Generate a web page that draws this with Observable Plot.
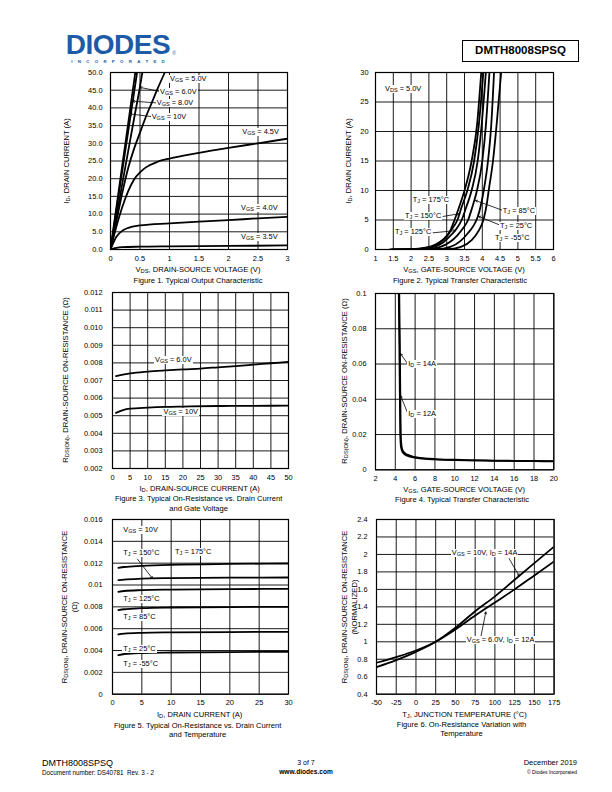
<!DOCTYPE html>
<html><head><meta charset="utf-8">
<script src="https://cdn.jsdelivr.net/npm/d3@7"></script>
<script src="https://cdn.jsdelivr.net/npm/@observablehq/plot@0.6"></script>
<style>
body{margin:0;background:#fff;}
#page{position:relative;width:612px;height:792px;overflow:hidden;font-family:"Liberation Sans",Arial,sans-serif;color:#000;background:#fff;}
.t{position:absolute;white-space:nowrap;line-height:1;}
.ann{position:absolute;white-space:nowrap;font-size:7.4px;line-height:8px;background:#fff;padding:0 1px;transform:translate(-1px,-50%);}
sub{font-size:75%;vertical-align:-0.22em;line-height:0;}
svg{position:absolute;overflow:visible;}
</style></head><body><div id="page"></div>
<script>
// ================= DATA =================
// Figure 1 – Typical Output Characteristic
const fig1XTicks = [0,0.5,1,1.5,2,2.5,3];
const fig1XLabels = ["0","0.5","1","1.5","2","2.5","3"];
const fig1YTicks = [0,5,10,15,20,25,30,35,40,45,50];
const fig1YLabels = ["0.0","5.0","10.0","15.0","20.0","25.0","30.0","35.0","40.0","45.0","50.0"];
const fig1Vgs10 = [[0,0],[0.1,11.9],[0.2,23.8],[0.3,35.6],[0.42,50]];
const fig1Vgs8  = [[0,0],[0.1,11.2],[0.2,22.3],[0.3,33.4],[0.4,44.4],[0.45,50]];
const fig1Vgs6  = [[0,0],[0.1,9.3],[0.2,18.6],[0.3,27.8],[0.4,37],[0.5,46],[0.54,50]];
const fig1Vgs5  = [[0,0],[0.1,8],[0.2,16],[0.3,23],[0.4,28.5],[0.5,33],[0.6,37.5],[0.7,41.5],[0.8,45.5],[0.92,50]];
const fig1Vgs45 = [[0,0],[0.1,6.5],[0.2,12],[0.3,16.5],[0.4,19.8],[0.5,21.8],[0.6,23.2],[0.8,24.8],[1,25.7],[1.5,27.3],[2,28.7],[2.5,30],[3,31.3]];
const fig1Vgs4  = [[0,0],[0.1,3.6],[0.2,5.3],[0.3,6.1],[0.5,6.8],[1,7.4],[1.5,7.9],[2,8.3],[2.5,8.8],[3,9.2]];
const fig1Vgs35 = [[0,0],[0.1,0.45],[0.2,0.65],[0.5,0.8],[1,0.9],[2,1.0],[3,1.15]];

// Figure 2 – Typical Transfer Characteristic
const fig2XTicks = [1,1.5,2,2.5,3,3.5,4,4.5,5,5.5,6];
const fig2XLabels = ["1","1.5","2","2.5","3","3.5","4","4.5","5","5.5","6"];
const fig2YTicks = [0,5,10,15,20,25,30];
const fig2YLabels = ["0","5","10","15","20","25","30"];
const fig2T175 = [[1.4,0],[2.0,0.05],[2.4,0.3],[2.7,0.9],[2.9,1.7],[3.1,3.2],[3.22,5],[3.35,7.2],[3.5,10],[3.7,15],[3.85,21],[3.97,30]];
const fig2T150 = [[1.45,0],[2.1,0.05],[2.5,0.35],[2.8,1.1],[3.0,2.2],[3.15,3.5],[3.3,5],[3.42,7.2],[3.58,10],[3.77,15],[3.9,21],[4.03,30]];
const fig2T125 = [[1.5,0],[2.2,0.05],[2.6,0.35],[2.9,1.2],[3.1,2.3],[3.25,3.3],[3.42,5],[3.55,7.2],[3.7,10],[3.87,15],[3.98,21],[4.1,30]];
const fig2T85  = [[1.6,0],[2.4,0.05],[2.8,0.4],[3.1,1.3],[3.3,2.4],[3.45,3.5],[3.6,5],[3.72,7.2],[3.85,10],[4.0,15],[4.1,21],[4.2,30]];
const fig2T25  = [[1.8,0],[2.7,0.05],[3.1,0.45],[3.4,1.5],[3.6,2.8],[3.75,4],[3.87,5.5],[3.96,7.5],[4.04,10],[4.16,15],[4.25,21],[4.33,30]];
const fig2Tm55 = [[2.2,0],[3.0,0.05],[3.4,0.45],[3.7,1.6],[3.9,3.2],[4.03,5],[4.12,7.5],[4.18,10],[4.3,15],[4.4,21],[4.53,30]];

// Figure 3 – On-Resistance vs Drain Current and Gate Voltage
const fig3XTicks = [0,5,10,15,20,25,30,35,40,45,50];
const fig3XLabels = ["0","5","10","15","20","25","30","35","40","45","50"];
const fig3YTicks = [0.002,0.003,0.004,0.005,0.006,0.007,0.008,0.009,0.010,0.011,0.012];
const fig3YLabels = ["0.002","0.003","0.004","0.005","0.006","0.007","0.008","0.009","0.010","0.011","0.012"];
const fig3Vgs6  = [[1,0.00725],[5,0.0074],[10,0.0075],[15,0.00757],[20,0.00763],[25,0.00768],[30,0.00775],[35,0.00782],[40,0.0079],[45,0.00798],[50,0.00806]];
const fig3Vgs10 = [[1,0.00516],[3,0.00532],[5,0.0054],[10,0.00546],[15,0.0055],[20,0.00552],[30,0.00555],[40,0.00556],[50,0.00557]];

// Figure 4 – On-Resistance vs Gate-Source Voltage
const fig4XTicks = [2,4,6,8,10,12,14,16,18,20];
const fig4XLabels = ["2","4","6","8","10","12","14","16","18","20"];
const fig4YTicks = [0,0.02,0.04,0.06,0.08,0.1];
const fig4YLabels = ["0","0.02","0.04","0.06","0.08","0.1"];
const fig4Id12 = [[4.35,0.1],[4.41,0.07],[4.46,0.04],[4.5,0.02],[4.55,0.014],[4.63,0.0115],[4.8,0.0095],[5.2,0.008],[6,0.0069],[7,0.0062],[8,0.0059],[10,0.0055],[12,0.0053],[14,0.0051],[16,0.005],[18,0.0049],[20,0.0048]];
const fig4Id14 = [[4.4,0.1],[4.46,0.07],[4.51,0.04],[4.55,0.02],[4.6,0.015],[4.68,0.012],[4.87,0.0099],[5.2,0.0086],[6,0.0072],[7,0.0065],[8,0.0061],[10,0.0057],[12,0.0054],[14,0.0052],[16,0.0051],[18,0.005],[20,0.0049]];

// Figure 5 – On-Resistance vs Drain Current and Temperature
const fig5XTicks = [0,5,10,15,20,25,30];
const fig5XLabels = ["0","5","10","15","20","25","30"];
const fig5YTicks = [0,0.002,0.004,0.006,0.008,0.01,0.012,0.014,0.016];
const fig5YLabels = ["0","0.002","0.004","0.006","0.008","0.01","0.012","0.014","0.016"];
const fig5T175 = [[1,0.01157],[2,0.01165],[5,0.01175],[10,0.01185],[20,0.01193],[30,0.01197]];
const fig5T150 = [[1,0.01044],[2,0.0105],[5,0.01058],[10,0.01063],[20,0.01067],[30,0.01069]];
const fig5T125 = [[1,0.00937],[2,0.00945],[5,0.00953],[10,0.00958],[20,0.00962],[30,0.00965]];
const fig5T85  = [[1,0.0077],[2,0.00778],[5,0.00788],[10,0.00794],[20,0.00798],[30,0.008]];
const fig5T25  = [[1,0.00547],[2,0.00555],[5,0.00562],[10,0.00566],[20,0.00569],[30,0.00571]];
const fig5Tm55 = [[1,0.00357],[2,0.00368],[5,0.00377],[10,0.00382],[20,0.00386],[30,0.00388]];

// Figure 6 – On-Resistance Variation with Temperature
const fig6XTicks = [-50,-25,0,25,50,75,100,125,150,175];
const fig6XLabels = ["-50","-25","0","25","50","75","100","125","150","175"];
const fig6YTicks = [0.4,0.6,0.8,1,1.2,1.4,1.6,1.8,2,2.2,2.4];
const fig6YLabels = ["0.4","0.6","0.8","1","1.2","1.4","1.6","1.8","2","2.2","2.4"];
const fig6Vgs10Id14 = [[-50,0.71],[-25,0.79],[0,0.885],[25,1.0],[50,1.16],[75,1.35],[100,1.52],[125,1.71],[150,1.9],[175,2.09]];
const fig6Vgs6Id12  = [[-50,0.76],[-25,0.825],[0,0.9],[25,1.0],[50,1.14],[75,1.3],[100,1.45],[125,1.6],[150,1.76],[175,1.92]];

// ============ ANNOTATIONS (data coordinates) ============
const VGS = "V<sub>GS</sub>", TJ = "T<sub>J</sub>", ID = "I<sub>D</sub>";
const fig1Notes = [
  {x:1.025,y:48.0,html:VGS+" = 5.0V"},
  {x:0.856,y:44.4,html:VGS+" = 6.0V"},
  {x:0.80,y:41.2,html:VGS+" = 8.0V"},
  {x:0.715,y:37.3,html:VGS+" = 10V"},
  {x:2.25,y:33.1,html:VGS+" = 4.5V"},
  {x:2.23,y:11.5,html:VGS+" = 4.0V"},
  {x:2.23,y:3.5,html:VGS+" = 3.5V"}];
const fig1Arrows = [
  {x1:0.85,y1:44.6,x2:0.5,y2:45.8},
  {x1:0.79,y1:41.4,x2:0.378,y2:41.9},
  {x1:0.71,y1:37.5,x2:0.33,y2:38.3}];
const fig2Notes = [
  {x:1.28,y:27.2,html:"V<sub>DS</sub> = 5.0V"},
  {x:2.06,y:8.3,html:TJ+" = 175°C"},
  {x:1.84,y:5.6,html:TJ+" = 150°C"},
  {x:1.56,y:2.83,html:TJ+" = 125°C"},
  {x:4.59,y:6.44,html:TJ+" = 85°C"},
  {x:4.51,y:3.95,html:TJ+" = 25°C"},
  {x:4.37,y:1.81,html:TJ+" = -55°C"}];
const fig2Arrows = [
  {x1:2.9,y1:5.6,x2:3.34,y2:6.05},
  {x1:2.62,y1:2.83,x2:3.25,y2:3.2},
  {x1:4.59,y1:6.6,x2:3.81,y2:8.3},
  {x1:4.51,y1:4.1,x2:3.9,y2:5.6}];
const fig3Notes = [
  {x:12.3,y:0.00815,html:VGS+" = 6.0V"},
  {x:14.7,y:0.00522,html:VGS+" = 10V"}];
const fig4Notes = [
  {x:5.36,y:0.0597,html:ID+" = 14A"},
  {x:5.36,y:0.0314,html:ID+" = 12A"}];
const fig4Arrows = [
  {x1:5.3,y1:0.0597,x2:4.53,y2:0.0658},
  {x1:5.3,y1:0.0314,x2:4.53,y2:0.0421}];
const fig5Notes = [
  {x:1.98,y:0.01502,html:VGS+" = 10V"},
  {x:1.98,y:0.01289,html:TJ+" = 150°C"},
  {x:10.8,y:0.01303,html:TJ+" = 175°C"},
  {x:1.98,y:0.00867,html:TJ+" = 125°C"},
  {x:1.98,y:0.00708,html:TJ+" = 85°C"},
  {x:1.98,y:0.0041,html:TJ+" = 25°C"},
  {x:1.98,y:0.00275,html:TJ+" = -55°C"}];
const fig5Arrows = [{x1:4.26,y1:0.01237,x2:6.81,y2:0.0106}];
const fig6Notes = [
  {x:46.3,y:2.01,html:VGS+" = 10V, "+ID+" = 14A"},
  {x:65.3,y:1.018,html:VGS+" = 6.0V, "+ID+" = 12A"}];
const fig6Arrows = [
  {x1:118,y1:1.953,x2:130.7,y2:1.754},
  {x1:82.2,y1:1.056,x2:88.5,y2:1.342}];

// ================= RENDER =================
const page = document.getElementById("page");
const FONT = "Liberation Sans, Arial, sans-serif";
const TITLE_SIZE = 7.6;

function text(html, cx, cy, size, extra) {
  const d = document.createElement("div");
  d.className = "t";
  d.innerHTML = html;
  d.style.fontSize = size + "px";
  d.style.left = cx + "px";
  d.style.top = cy + "px";
  d.style.transform = "translate(-50%,-50%)" + (extra && extra.rotate ? " rotate(-90deg)" : "");
  if (extra && extra.style) Object.assign(d.style, extra.style);
  page.appendChild(d);
  return d;
}

function toRows(list) {
  return list.flatMap(s => s.pts.map(([x, y]) => ({series: s.name, x, y})));
}

function drawChart(c) {
  const mL = 40, mR = 10, mT = 8, mB = 16;
  const fw = c.frame.r - c.frame.l, fh = c.frame.b - c.frame.t;
  const xMap = new Map(c.xTicks.map((t, i) => [t, c.xLabels[i]]));
  const yMap = new Map(c.yTicks.map((t, i) => [t, c.yLabels[i]]));
  const rows = toRows(c.series);
  const p = Plot.plot({
    width: fw + mL + mR, height: fh + mT + mB,
    marginLeft: mL, marginRight: mR, marginTop: mT, marginBottom: mB,
    x: {type: "linear", domain: c.xDomain, ticks: c.xTicks, tickFormat: d => xMap.get(d), tickSize: 0, tickPadding: 6, label: null},
    y: {type: "linear", domain: c.yDomain, ticks: c.yTicks, tickFormat: d => yMap.get(d), tickSize: 0, tickPadding: c.yPad, label: null},
    style: {fontFamily: FONT, fontSize: "7.4px", color: "#000", background: "transparent", overflow: "visible"},
    marks: [
      Plot.ruleX(c.xTicks, {stroke: "#000", strokeWidth: 0.9}),
      Plot.ruleY(c.yTicks, {stroke: "#000", strokeWidth: 0.9}),
      Plot.line(rows, {x: "x", y: "y", z: "series", stroke: "#000", strokeWidth: 1.8, curve: "monotone-x", clip: true}),
      Plot.arrow(c.arrows || [], {x1: "x1", y1: "y1", x2: "x2", y2: "y2", stroke: "#000", strokeWidth: 0.8, headLength: 4}),
      Plot.frame({stroke: "#000", strokeWidth: 1.2})
    ]
  });
  const left = c.frame.l - mL, top = c.frame.t - mT;
  p.style.left = left + "px";
  p.style.top = top + "px";
  page.appendChild(p);
  const sx = p.scale("x"), sy = p.scale("y");
  for (const n of c.notes || []) {
    const d = document.createElement("div");
    d.className = "ann";
    d.innerHTML = n.html;
    d.style.left = (left + sx.apply(n.x)) + "px";
    d.style.top = (top + sy.apply(n.y)) + "px";
    page.appendChild(d);
  }
  // axis titles and caption
  text(c.xTitle, (c.frame.l + c.frame.r) / 2, c.frame.b + (c.xtDy || 21), TITLE_SIZE);
  c.yTitle.forEach((t, i) => text(t, c.yTitleX[i], (c.frame.t + c.frame.b) / 2 + (c.yTitleDy || 0), TITLE_SIZE, {rotate: true}));
  c.caption.forEach((t, i) => text(t, (c.frame.l + c.frame.r) / 2 + (c.capDx || 0), c.frame.b + (c.capDy || 32) + i * 9.8, TITLE_SIZE));
}

const RDS = "R<sub>DS(ON)</sub>, DRAIN-SOURCE ON-RESISTANCE";

drawChart({
  frame: {l: 109.5, r: 286.5, t: 72, b: 249},
  xDomain: [0, 3], yDomain: [0, 50], yPad: 8,
  xTicks: fig1XTicks, xLabels: fig1XLabels, yTicks: fig1YTicks, yLabels: fig1YLabels,
  series: [
    {name: "10V", pts: fig1Vgs10}, {name: "8V", pts: fig1Vgs8}, {name: "6V", pts: fig1Vgs6},
    {name: "5V", pts: fig1Vgs5}, {name: "4.5V", pts: fig1Vgs45}, {name: "4V", pts: fig1Vgs4}, {name: "3.5V", pts: fig1Vgs35}],
  notes: fig1Notes, arrows: fig1Arrows,
  xTitle: "V<sub>DS</sub>, DRAIN-SOURCE VOLTAGE (V)",
  yTitle: [ID + ", DRAIN CURRENT (A)"], yTitleX: [67],
  caption: ["Figure 1. Typical Output Characteristic"]
});

drawChart({
  frame: {l: 375, r: 553, t: 72, b: 249},
  xDomain: [1, 6], yDomain: [0, 30], yPad: 7,
  xTicks: fig2XTicks, xLabels: fig2XLabels, yTicks: fig2YTicks, yLabels: fig2YLabels,
  series: [
    {name: "175", pts: fig2T175}, {name: "150", pts: fig2T150}, {name: "125", pts: fig2T125},
    {name: "85", pts: fig2T85}, {name: "25", pts: fig2T25}, {name: "-55", pts: fig2Tm55}],
  notes: fig2Notes, arrows: fig2Arrows,
  xTitle: "V<sub>GS</sub>, GATE-SOURCE VOLTAGE (V)",
  yTitle: [ID + ", DRAIN CURRENT (A)"], yTitleX: [349],
  caption: ["Figure 2. Typical Transfer Characteristic"], capDx: -4
});

drawChart({
  frame: {l: 111.7, r: 287.7, t: 292.3, b: 468.3},
  xDomain: [0, 50], yDomain: [0.002, 0.012], yPad: 10,
  xTicks: fig3XTicks, xLabels: fig3XLabels, yTicks: fig3YTicks, yLabels: fig3YLabels,
  series: [{name: "6V", pts: fig3Vgs6}, {name: "10V", pts: fig3Vgs10}],
  notes: fig3Notes, arrows: [],
  xTitle: ID + ", DRAIN-SOURCE CURRENT (A)",
  yTitle: [RDS + " (Ω)"], yTitleX: [66],
  caption: ["Figure 3. Typical On-Resistance vs. Drain Current", "and Gate Voltage"], capDx: -1, capDy: 30.5
});

drawChart({
  frame: {l: 375, r: 553.3, t: 293, b: 469.3},
  xDomain: [2, 20], yDomain: [0, 0.1], yPad: 9,
  xTicks: fig4XTicks, xLabels: fig4XLabels, yTicks: fig4YTicks, yLabels: fig4YLabels,
  series: [{name: "12A", pts: fig4Id12}, {name: "14A", pts: fig4Id14}],
  notes: fig4Notes, arrows: fig4Arrows,
  xTitle: "V<sub>GS</sub>, GATE-SOURCE VOLTAGE (V)",
  yTitle: [RDS + " (Ω)"], yTitleX: [345],
  caption: ["Figure 4. Typical Transfer Characteristic"], capDx: -2, capDy: 31
});

drawChart({
  frame: {l: 111.7, r: 287.7, t: 519.3, b: 694},
  xDomain: [0, 30], yDomain: [0, 0.016], yPad: 10,
  xTicks: fig5XTicks, xLabels: fig5XLabels, yTicks: fig5YTicks, yLabels: fig5YLabels,
  series: [
    {name: "175", pts: fig5T175}, {name: "150", pts: fig5T150}, {name: "125", pts: fig5T125},
    {name: "85", pts: fig5T85}, {name: "25", pts: fig5T25}, {name: "-55", pts: fig5Tm55}],
  notes: fig5Notes, arrows: fig5Arrows,
  xTitle: ID + ", DRAIN CURRENT (A)",
  yTitle: [RDS, "(Ω)"], yTitleX: [64.5, 75],
  caption: ["Figure 5. Typical On-Resistance vs. Drain Current", "and Temperature"], capDx: -2, capDy: 31.5
});

drawChart({
  frame: {l: 375.7, r: 553.3, t: 519.3, b: 694},
  xDomain: [-50, 175], yDomain: [0.4, 2.4], yPad: 9,
  xTicks: fig6XTicks, xLabels: fig6XLabels, yTicks: fig6YTicks, yLabels: fig6YLabels,
  series: [{name: "10V14A", pts: fig6Vgs10Id14}, {name: "6V12A", pts: fig6Vgs6Id12}],
  notes: fig6Notes, arrows: fig6Arrows,
  xTitle: "T<sub>J</sub>, JUNCTION TEMPERATURE (°C)",
  yTitle: [RDS, "(NORMALIZED)"], yTitleX: [345, 355],
  caption: ["Figure 6. On-Resistance Variation with", "Temperature"], capDx: -3, capDy: 30.5
});

// ================= HEADER / FOOTER =================
text("DIODES", 118, 44.5, 28, {style: {fontWeight: "900", color: "#1d5ba6", letterSpacing: "-0.5px", fontStyle: "normal"}});
text("®", 174, 53, 5, {style: {color: "#1d5ba6"}});
text("INCORPORATED", 118, 61.6, 4.4, {style: {color: "#1d5ba6", letterSpacing: "5.3px", fontWeight: "bold", paddingLeft: "5.3px"}});
const box = document.createElement("div");
box.className = "t";
Object.assign(box.style, {left: "462px", top: "40px", width: "117px", height: "22px", border: "1.3px solid #000", boxSizing: "border-box", display: "flex", alignItems: "center", justifyContent: "center", fontWeight: "bold", fontSize: "11.5px"});
box.textContent = "DMTH8008SPSQ";
page.appendChild(box);

text("DMTH8008SPSQ", 42, 763, 9, {style: {transform: "translate(0,-50%)"}});
text("Document number: DS40781&nbsp; Rev. 3 - 2", 42, 773, 6.3, {style: {transform: "translate(0,-50%)"}});
text("3 of 7", 306, 762, 7);
text("www.diodes.com", 306, 772, 6.6, {style: {fontWeight: "bold"}});
text("December 2019", 577, 763, 7.5, {style: {transform: "translate(-100%,-50%)"}});
text("© Diodes Incorporated", 577, 772, 5, {style: {transform: "translate(-100%,-50%)"}});
</script></body></html>
